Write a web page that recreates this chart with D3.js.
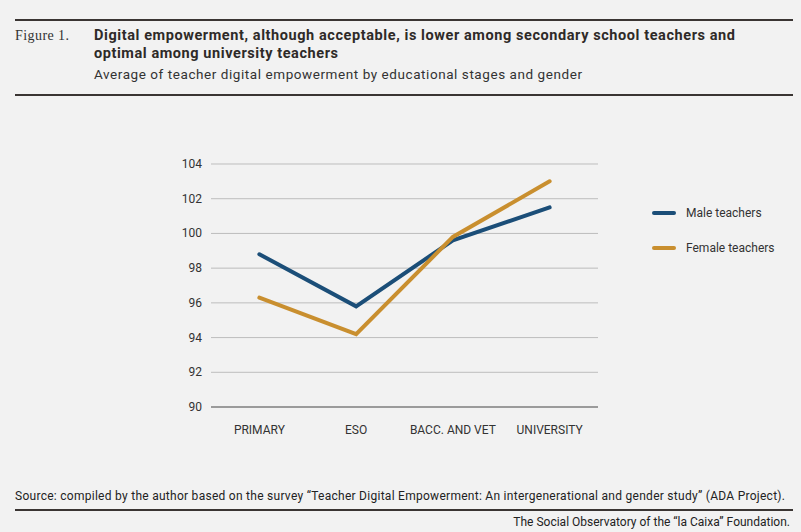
<!DOCTYPE html>
<html>
<head>
<meta charset="utf-8">
<script src="https://cdn.jsdelivr.net/npm/d3@7"></script>
<style>
  body { margin: 0; background: #f2f2f2; }
  svg { display: block; }
</style>
</head>
<body>
<svg id="chart" width="801" height="532"></svg>
<script>
const categories = ["PRIMARY", "ESO", "BACC. AND VET", "UNIVERSITY"];
const maleValues = [98.8, 95.8, 99.6, 101.5];
const femaleValues = [96.3, 94.2, 99.8, 103.0];
const seriesNames = ["Male teachers", "Female teachers"];
const yTicks = [90, 92, 94, 96, 98, 100, 102, 104];

const colors = ["#1b4e78", "#c98f2f"];
const series = [maleValues, femaleValues];

const svg = d3.select("#chart");
svg.append("rect").attr("width", 801).attr("height", 532).attr("fill", "#f2f2f2");

// header rules + titles
svg.append("line").attr("x1", 15).attr("x2", 793).attr("y1", 20).attr("y2", 20)
  .attr("stroke", "#3a3533").attr("stroke-width", 2);
svg.append("line").attr("x1", 15).attr("x2", 793).attr("y1", 95).attr("y2", 95)
  .attr("stroke", "#3a3533").attr("stroke-width", 2);

svg.append("text").attr("x", 15).attr("y", 40)
  .attr("font-family", "Liberation Serif").attr("font-size", 14)
  .attr("fill", "#333").attr("textLength", 54).text("Figure 1.");

const title = svg.append("text").attr("font-family", "Roboto").attr("font-weight", "bold")
  .attr("font-size", 14.5).attr("fill", "#2e2a28");
title.append("tspan").attr("x", 94).attr("y", 40).attr("textLength", 641)
  .text("Digital empowerment, although acceptable, is lower among secondary school teachers and");
title.append("tspan").attr("x", 94).attr("y", 58).attr("textLength", 244)
  .text("optimal among university teachers");

svg.append("text").attr("x", 94).attr("y", 79)
  .attr("font-family", "Roboto").attr("font-size", 13.5).attr("fill", "#333")
  .attr("textLength", 488).text("Average of teacher digital empowerment by educational stages and gender");

// plot
const x = d3.scaleBand().domain(categories).range([211, 598]).padding(0);
const y = d3.scaleLinear().domain([90, 104]).range([407, 164]);

svg.append("g")
  .selectAll("line")
  .data(yTicks.filter(d => d !== 90))
  .join("line")
  .attr("x1", 211).attr("x2", 598)
  .attr("y1", d => y(d)).attr("y2", d => y(d))
  .attr("stroke", "#bdbdbd").attr("stroke-width", 1);

svg.append("line").attr("x1", 211).attr("x2", 598)
  .attr("y1", y(90)).attr("y2", y(90))
  .attr("stroke", "#444").attr("stroke-width", 1.2);

svg.append("g")
  .attr("font-family", "Roboto").attr("font-size", 12).attr("fill", "#333")
  .attr("text-anchor", "end")
  .selectAll("text")
  .data(yTicks)
  .join("text")
  .attr("x", 202).attr("y", d => y(d) + 4)
  .text(d => d);

svg.append("g")
  .attr("font-family", "Roboto").attr("font-size", 12).attr("fill", "#333")
  .attr("text-anchor", "middle")
  .selectAll("text")
  .data(categories)
  .join("text")
  .attr("x", d => x(d) + x.bandwidth() / 2).attr("y", 434)
  .text(d => d);

const line = d3.line()
  .x((d, i) => x(categories[i]) + x.bandwidth() / 2)
  .y(d => y(d));

svg.append("g")
  .selectAll("path")
  .data(series)
  .join("path")
  .attr("d", line)
  .attr("fill", "none")
  .attr("stroke", (d, i) => colors[i])
  .attr("stroke-width", 4)
  .attr("stroke-linecap", "round")
  .attr("stroke-linejoin", "miter");

// legend
const legend = svg.append("g")
  .selectAll("g")
  .data(seriesNames)
  .join("g")
  .attr("transform", (d, i) => "translate(654," + (213 + i * 35) + ")");
legend.append("line").attr("x1", 0).attr("x2", 20)
  .attr("stroke", (d, i) => colors[i]).attr("stroke-width", 4).attr("stroke-linecap", "round");
legend.append("text").attr("x", 32).attr("y", 4)
  .attr("font-family", "Roboto").attr("font-size", 12).attr("fill", "#333")
  .text(d => d);

// footer
svg.append("text").attr("x", 15).attr("y", 500)
  .attr("font-family", "Roboto").attr("font-size", 12).attr("fill", "#222")
  .attr("textLength", 770)
  .text("Source: compiled by the author based on the survey \u201cTeacher Digital Empowerment: An intergenerational and gender study\u201d (ADA Project).");
svg.append("line").attr("x1", 15).attr("x2", 793).attr("y1", 510).attr("y2", 510)
  .attr("stroke", "#3a3533").attr("stroke-width", 2);
svg.append("text").attr("x", 790).attr("y", 526)
  .attr("font-family", "Roboto").attr("font-size", 12).attr("fill", "#222")
  .attr("text-anchor", "end")
  .text("The Social Observatory of the \u201cla Caixa\u201d Foundation.");
</script>
</body>
</html>
